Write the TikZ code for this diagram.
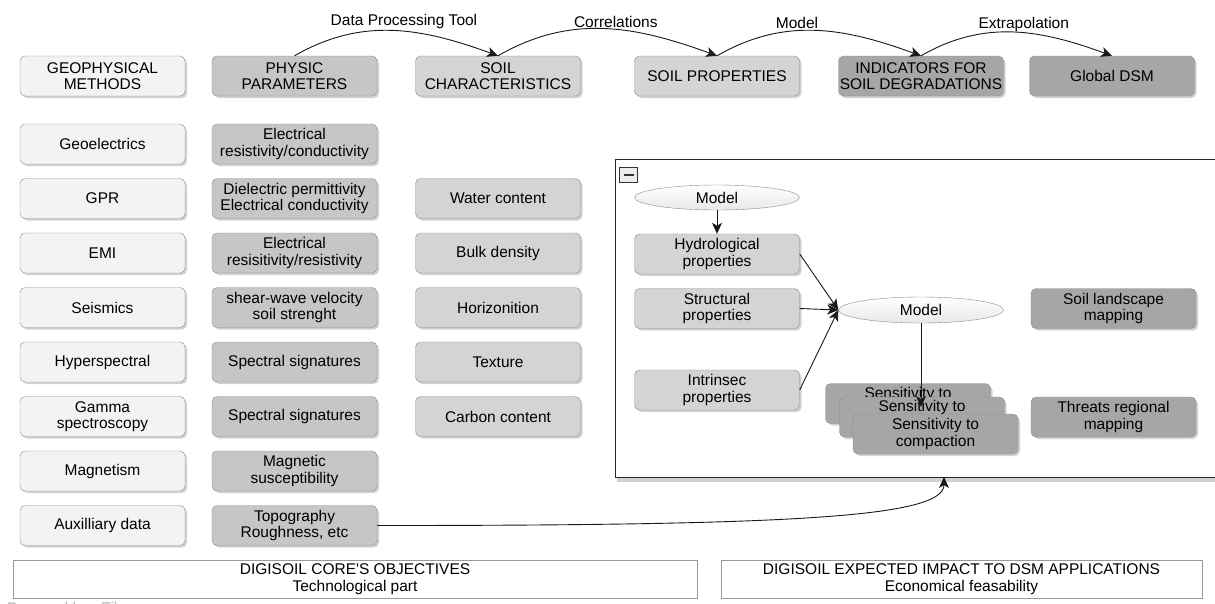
\documentclass[tikz,border=0pt]{standalone}
\usepackage{fontspec}
\setmainfont{Liberation Sans}
\usetikzlibrary{arrows.meta, shapes.geometric, shadows}

\definecolor{methodfill}{HTML}{F3F3F3}
\definecolor{paramfill}{HTML}{C6C6C6}
\definecolor{charfill}{HTML}{D4D4D4}
\definecolor{indfill}{HTML}{A6A6A6}
\definecolor{edgegray}{HTML}{8C8C8C}

\newcommand{\boxfont}{\fontsize{15.5}{16.5}\selectfont}

\begin{document}
\begin{tikzpicture}[x=1pt, y=-1pt,
    card/.style={rectangle, rounded corners=5pt, draw=edgegray, minimum width=165pt,
      minimum height=40pt, inner sep=1pt, align=center, font=\boxfont,
      drop shadow={shadow xshift=2pt, shadow yshift=-2pt, fill=black, opacity=.18}},
    methodbox/.style={card, fill=methodfill},
    parambox/.style={card, fill=paramfill},
    charbox/.style={card, fill=charfill},
    indbox/.style={card, fill=indfill},
    modelnode/.style={ellipse, draw=edgegray, top color=white, bottom color=black!9,
      minimum width=165pt, minimum height=25pt, inner sep=0pt, font=\boxfont},
    footbox/.style={rectangle, draw=black!40, fill=white, align=center, font=\boxfont,
      minimum height=38pt},
    flow/.style={-{Stealth[length=11pt, width=10pt, inset=3pt]}, line width=0.9pt, black!90},
    lbl/.style={font=\boxfont, inner sep=2pt, text=black}]

    \fill[white] (0,0) rectangle (1215,603);
    \useasboundingbox (0,0) rectangle (1215,603);

    % header row
    \node[methodbox] (geohead) at (102.5,76) {GEOPHYSICAL\\METHODS};
    \node[parambox] (physhead) at (294.5,76) {PHYSIC\\PARAMETERS};
    \node[charbox] (charhead) at (498,76) {SOIL\\CHARACTERISTICS};
    \node[charbox] (prophead) at (717,76) {SOIL PROPERTIES};
    \node[indbox] (indhead) at (921,76) {INDICATORS FOR\\SOIL DEGRADATIONS};
    \node[indbox] (dsmhead) at (1112,76) {Global DSM};

    \path[flow]
    (physhead.north) edge[out=30, in=160] node[lbl, pos=0.55, above] {Data Processing Tool} (charhead.north)
    (charhead.north) edge[out=30, in=160] node[lbl, pos=0.55, above] {Correlations} (prophead.north)
    (prophead.north) edge[out=30, in=160] node[lbl, pos=0.4, above] {Model} (indhead.north)
    (indhead.north) edge[out=30, in=160] node[lbl, pos=0.55, above=-1pt] {Extrapolation} (dsmhead.north);

    % methods
    \node[methodbox] (geoel) at (102.5,144) {Geoelectrics};
    \node[methodbox] (gpr) at (102.5,198.5) {GPR};
    \node[methodbox] (emi) at (102.5,253) {EMI};
    \node[methodbox] (seis) at (102.5,307.5) {Seismics};
    \node[methodbox] (hyper) at (102.5,362) {Hyperspectral};
    \node[methodbox] (gamma) at (102.5,416.5) {Gamma\\spectroscopy};
    \node[methodbox] (magn) at (102.5,471) {Magnetism};
    \node[methodbox] (aux) at (102.5,525.5) {Auxilliary data};

    % physic parameters
    \node[parambox] (resist) at (294.5,144) {Electrical\\resistivity/conductivity};
    \node[parambox] (dielec) at (294.5,198.5) {Dielectric permittivity\\Electrical conductivity};
    \node[parambox] (emires) at (294.5,253) {Electrical\\resisitivity/resistivity};
    \node[parambox] (shear) at (294.5,307.5) {shear-wave velocity\\soil strenght};
    \node[parambox] (spectra) at (294.5,362) {Spectral signatures};
    \node[parambox] (spectrb) at (294.5,416.5) {Spectral signatures};
    \node[parambox] (suscept) at (294.5,471) {Magnetic\\susceptibility};
    \node[parambox] (topo) at (294.5,525.5) {Topography\\Roughness, etc};

    % soil characteristics
    \node[charbox] (water) at (498,198.5) {Water content};
    \node[charbox] (bulk) at (498,253) {Bulk density};
    \node[charbox] (horiz) at (498,307.5) {Horizonition};
    \node[charbox] (texture) at (498,362) {Texture};
    \node[charbox] (carbon) at (498,416.5) {Carbon content};

    % expanded group
    \fill[black!18] (617,477) rectangle (1215,481.5);
    \draw[black!85, line width=0.9pt] (1215,159) -| (615,477) -- (1215,477);
    \coordinate (groupbot) at (944,477);
    \node[rectangle, draw=black!80, fill=black!7, minimum width=18pt, minimum height=15pt,
      path picture={\draw[line width=2pt] ([xshift=-5pt]path picture bounding box.center)
        -- ([xshift=5pt]path picture bounding box.center);}] (collapse) at (628.5,174.5) {};

    \node[modelnode] (topmodel) at (717,197.5) {Model};
    \node[charbox] (hydro) at (717,254) {Hydrological\\properties};
    \node[charbox] (struct) at (717,308.5) {Structural\\properties};
    \node[charbox] (intrin) at (717,390) {Intrinsec\\properties};
    \node[modelnode, minimum height=26pt] (midmodel) at (921,310) {Model};
    \node[indbox] (landscape) at (1113.5,308.5) {Soil landscape\\mapping};
    \node[indbox] (threats) at (1113.5,417) {Threats regional\\mapping};
    \node[indbox] (sensa) at (908,403.5) {Sensitivity to\\\strut};
    \node[indbox] (sensb) at (922,417) {Sensitivity to\\\strut};

    \draw[flow] (topmodel) -- (hydro);
    \draw[flow] (hydro.east) -- (midmodel.west);
    \draw[flow] (struct.east) -- (midmodel.west);
    \draw[flow] (intrin.east) -- (midmodel.west);
    \draw[flow, shorten >=6pt] (midmodel.south) -- (midmodel.south |- 0,413);

    \node[indbox] (compact) at (935.5,434) {Sensitivity to\\compaction};

    \draw[flow] (topo.east) to[out=0, in=-90, out distance=420pt, in distance=40pt] (groupbot);

    % footer
    \node[footbox, minimum width=684pt] (core) at (355,579) {DIGISOIL CORE\textquotesingle S OBJECTIVES\\Technological part};
    \node[footbox, minimum width=481pt] (impact) at (961.5,579) {DIGISOIL EXPECTED IMPACT TO DSM APPLICATIONS\\Economical feasability};

    \begin{scope}
      \clip (0,0) rectangle (1215,603);
      \node[anchor=base west, text=black!30, font=\boxfont, inner sep=0pt] (powered) at (7,613.5) {Powered by yFiles};
    \end{scope}
\end{tikzpicture}
\end{document}
